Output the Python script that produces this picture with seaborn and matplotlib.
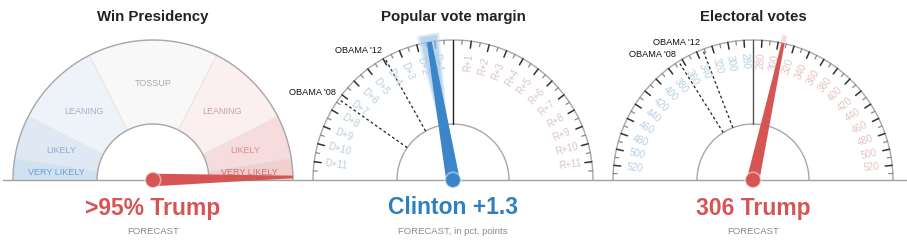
import numpy as np
import pandas as pd
import matplotlib
matplotlib.use("Agg")
import matplotlib.pyplot as plt
import seaborn as sns
from matplotlib.patches import Wedge, Polygon

# ---------------- data ----------------
titles = ["Win Presidency", "Popular vote margin", "Electoral votes"]
headlines = [">95% Trump", "Clinton +1.3", "306 Trump"]
subtitles = ["FORECAST", "FORECAST, in pct. points", "FORECAST"]

zone_labels = ["VERY LIKELY", "LIKELY", "LEANING", "TOSSUP", "LEANING", "LIKELY", "VERY LIKELY"]
zone_edges = [0, 5, 15, 35, 65, 85, 95, 100]          # Trump win probability, %
trump_win_prob = 99.3

margin_labels = list(range(1, 12))                    # D+k / R+k
margin_max = 12
margin_value = -1.3                                   # negative = Democratic
margin_band = [-0.8, -1.8]
margin_hist_names = ["OBAMA '12", "OBAMA '08"]
margin_hist_values = [-3.9, -7.3]

ev_total = 538
ev_labels = list(range(280, 521, 20))
trump_ev = 306
ev_band = [303, 309]
ev_hist_names = ["OBAMA '12", "OBAMA '08"]
ev_hist_clinton = [332, 365]

# ---------------- style ----------------
sns.set_theme(style="white")
plt.rcParams["font.family"] = ["Liberation Sans", "DejaVu Sans"]

W, H = 907, 242
fig = plt.figure(figsize=(W / 100, H / 100), dpi=100)
ax = fig.add_axes([0, 0, 1, 1])
ax.set_xlim(0, W)
ax.set_ylim(0, H)
ax.axis("off")

CX = [153, 453, 753]
CY = 62
RO, RI = 140, 56
RED = "#d65454"
BLUE = "#3a86c8"


def ang_prob(p):
    return 180 - p / 100 * 180


def ang_margin(m):
    return 90 - m / margin_max * 90


def ang_ev_trump(t):
    return 180 - t / ev_total * 180


def pt(cx, r, th):
    t = np.deg2rad(th)
    return cx + r * np.cos(t), CY + r * np.sin(t)


def arc(cx, r, color="#a8a8a8", lw=1.0, z=3):
    th = np.linspace(0, 180, 200)
    x, y = pt(cx, r, th)
    ax.plot(x, y, color=color, lw=lw, zorder=z, solid_capstyle="butt")


def needle(cx, th, hw0, hw1, L, color, z=8):
    t = np.deg2rad(th)
    u = np.array([np.cos(t), np.sin(t)])
    n = np.array([-np.sin(t), np.cos(t)])
    c = np.array([cx, CY])
    poly = [c + hw0 * n, c + L * u + hw1 * n, c + L * u - hw1 * n, c - hw0 * n]
    ax.add_patch(Polygon(poly, closed=True, facecolor=color, edgecolor="none", zorder=z))


# baseline
ax.plot([3, W], [CY, CY], color="#a0a0a0", lw=1.0, zorder=2)

# ---------------- panel 1: win probability ----------------
cx = CX[0]
fills = ["#d0e1f2", "#dfe9f4", "#edf3f9", "#f8f8f8", "#fcefef", "#f6dcdc", "#f2cfcf"]
txtc = ["#6f9fd2", "#8faacb", "#a2b1c6", "#ababab", "#caa0a0", "#d48d8d", "#d07070"]
for i, lab in enumerate(zone_labels):
    t1, t0 = ang_prob(zone_edges[i + 1]), ang_prob(zone_edges[i])
    ax.add_patch(Wedge((cx, CY), RO, t1, t0, width=RO - RI, facecolor=fills[i],
                       edgecolor="#e4e4e4", lw=0.6, zorder=1))
    tm = (t0 + t1) / 2
    x, y = pt(cx, 97, tm)
    ax.text(x, y, lab, ha="center", va="center", fontsize=6.5, color=txtc[i], zorder=4)
arc(cx, RO)
arc(cx, RI)

# ---------------- panel 2: popular vote margin ----------------
cx = CX[1]
arc(cx, RO)
arc(cx, RI)
for k in np.arange(0.5, margin_max, 0.5):
    major = float(k).is_integer()
    for s in (-1, 1):
        th = ang_margin(s * k)
        x0, y0 = pt(cx, RO - (7 if major else 4), th)
        x1, y1 = pt(cx, RO, th)
        ax.plot([x0, x1], [y0, y1], color="#333333" if major else "#8a8a8a",
                lw=1.1 if major else 0.9, zorder=3)
for k in margin_labels:
    th = ang_margin(-k)
    x, y = pt(cx, 118, th)
    ax.text(x, y, f"D+{k}", rotation=th - 180, rotation_mode="anchor", ha="center",
            va="center", fontsize=7.0, color="#b9cdd9", zorder=4)
    th = ang_margin(k)
    x, y = pt(cx, 118, th)
    ax.text(x, y, f"R+{k}", rotation=th, rotation_mode="anchor", ha="center",
            va="center", fontsize=7.0, color="#dcc4c4", zorder=4)
# center line
x0, y0 = pt(cx, RI, 90)
x1, y1 = pt(cx, RO, 90)
ax.plot([x0, x1], [y0, y1], color="#222222", lw=1.0, zorder=3)
for name, v in zip(margin_hist_names, margin_hist_values):
    th = ang_margin(v)
    x0, y0 = pt(cx, RI, th)
    x1, y1 = pt(cx, RO, th)
    ax.plot([x0, x1], [y0, y1], color="#222222", lw=0.9, ls=(0, (2.2, 2)), zorder=3)
    ax.text(x1 - 3, y1 + 7, name, ha="right", va="center", fontsize=6.6, color="#111111", zorder=4)
# uncertainty band + needle
ta, tb = sorted([ang_margin(margin_band[0]), ang_margin(margin_band[1])])
ax.add_patch(Wedge((cx, CY), 148, ta - 0.6, tb + 0.6, width=90, facecolor="#bcd8ef",
                   edgecolor="none", alpha=0.55, zorder=6))
ax.add_patch(Wedge((cx, CY), 146, ta + 0.4, tb - 0.4, width=80, facecolor="#8fbde4",
                   edgecolor="none", alpha=0.45, zorder=6))
needle(cx, ang_margin(margin_value), 6.8, 2.5, 140, BLUE)

# ---------------- panel 3: electoral votes ----------------
cx = CX[2]
arc(cx, RO)
arc(cx, RI)
for v in range(280, 540, 10):
    major = (v % 20 == 0)
    for th in (ang_ev_trump(v), ang_ev_trump(ev_total - v)):
        x0, y0 = pt(cx, RO - (7 if major else 4), th)
        x1, y1 = pt(cx, RO, th)
        ax.plot([x0, x1], [y0, y1], color="#333333" if major else "#8a8a8a",
                lw=1.1 if major else 0.9, zorder=3)
for v in ev_labels:
    th = ang_ev_trump(ev_total - v)
    x, y = pt(cx, 119, th)
    ax.text(x, y, f"{v}", rotation=th - 180, rotation_mode="anchor", ha="center",
            va="center", fontsize=7.0, color="#b7cfe2", zorder=4)
    th = ang_ev_trump(v)
    x, y = pt(cx, 119, th)
    ax.text(x, y, f"{v}", rotation=th, rotation_mode="anchor", ha="center",
            va="center", fontsize=7.0, color="#e3c3c3", zorder=4)
x0, y0 = pt(cx, RI, 90)
x1, y1 = pt(cx, RO, 90)
ax.plot([x0, x1], [y0, y1], color="#555555", lw=1.0, zorder=3)
for name, c in zip(ev_hist_names, ev_hist_clinton):
    th = ang_ev_trump(ev_total - c)
    x0, y0 = pt(cx, RI, th)
    x1, y1 = pt(cx, RO, th)
    ax.plot([x0, x1], [y0, y1], color="#222222", lw=0.9, ls=(0, (2.2, 2)), zorder=3)
    ax.text(x1 - 3, y1 + 7, name, ha="right", va="center", fontsize=6.6, color="#111111", zorder=4)
ta, tb = sorted([ang_ev_trump(ev_band[0]), ang_ev_trump(ev_band[1])])
ax.add_patch(Wedge((cx, CY), 148, ta, tb, width=70, facecolor="#f2b8b8",
                   edgecolor="none", alpha=0.5, zorder=6))
needle(cx, ang_ev_trump(trump_ev), 6.3, 1.5, 140, RED)

# panel 1 needle
needle(CX[0], ang_prob(trump_win_prob), 6.3, 1.3, 140, RED)

# pivots
piv = pd.DataFrame({"x": CX, "y": [CY] * 3, "c": [RED, BLUE, RED]})
sns.scatterplot(data=piv, x="x", y="y", hue="c", palette={RED: RED, BLUE: BLUE},
                s=125, edgecolor=(1, 1, 1, 0.45), linewidth=1.3, legend=False, ax=ax, zorder=9)
ax.set_xlim(0, W)
ax.set_ylim(0, H)
ax.axis("off")

# ---------------- texts ----------------
hcol = [RED, "#2f7fc1", RED]
for i in range(3):
    ax.text(CX[i], 225, titles[i], ha="center", va="center", fontsize=10.8,
            fontweight="bold", color="#222222")
    ax.text(CX[i], 34, headlines[i], ha="center", va="center", fontsize=16.5,
            fontweight="bold", color=hcol[i])
    ax.text(CX[i], 11, subtitles[i], ha="center", va="center", fontsize=6.8, color="#8a8a8a")

fig.savefig("out.png", dpi=100)
